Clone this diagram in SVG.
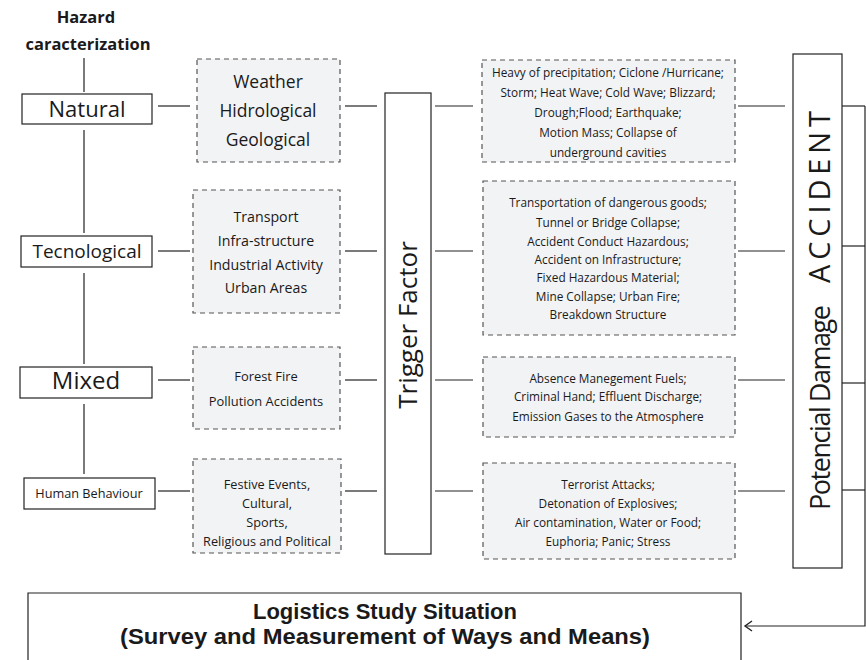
<svg xmlns="http://www.w3.org/2000/svg" width="866" height="660" viewBox="0 0 866 660">
<style>
text{font-family:"Open Sans","Noto Sans","DejaVu Sans",sans-serif;fill:#1a1a1a;text-anchor:middle}
.box{fill:#fff;stroke:#222;stroke-width:1.2}
.dash{fill:#f2f3f5;stroke:#555;stroke-width:1.2;stroke-dasharray:5 4}
.ln{stroke:#222;stroke-width:1.2;fill:none}
.r{font-size:11.8px}
.lg{font-family:"Liberation Sans",Arial,sans-serif;font-size:22px;font-weight:bold}
</style>
<defs>
<marker id="arr" markerWidth="12" markerHeight="12" refX="8" refY="6" orient="auto" markerUnits="userSpaceOnUse">
<path d="M1,1 L8,6 L1,11" fill="none" stroke="#222" stroke-width="1.4"/>
</marker>
</defs>
<rect width="866" height="660" fill="#fff"/>
<g id="title">
<text x="86" y="23" style="font-size:16.5px;font-weight:bold">Hazard</text>
<text x="88" y="50" style="font-size:16.5px;font-weight:bold">caracterization</text>
</g>
<g id="connectors">
<line class="ln" x1="84" y1="58" x2="84" y2="92"/>
<line class="ln" x1="84" y1="130" x2="84" y2="233"/>
<line class="ln" x1="84" y1="273" x2="84" y2="364"/>
<line class="ln" x1="84" y1="404" x2="84" y2="474"/>
<line class="ln" x1="158" y1="106" x2="190" y2="106"/>
<line class="ln" x1="158" y1="251" x2="190" y2="251"/>
<line class="ln" x1="158" y1="380" x2="190" y2="380"/>
<line class="ln" x1="158" y1="491" x2="190" y2="491"/>
<line class="ln" x1="345" y1="106" x2="377" y2="106"/>
<line class="ln" x1="345" y1="251" x2="377" y2="251"/>
<line class="ln" x1="345" y1="380" x2="377" y2="380"/>
<line class="ln" x1="345" y1="491" x2="377" y2="491"/>
<line class="ln" x1="435" y1="106" x2="473" y2="106"/>
<line class="ln" x1="435" y1="251" x2="473" y2="251"/>
<line class="ln" x1="435" y1="380" x2="473" y2="380"/>
<line class="ln" x1="435" y1="491" x2="473" y2="491"/>
<line class="ln" x1="738" y1="106" x2="785" y2="106"/>
<line class="ln" x1="738" y1="251" x2="785" y2="251"/>
<line class="ln" x1="738" y1="380" x2="785" y2="380"/>
<line class="ln" x1="738" y1="491" x2="785" y2="491"/>
<line class="ln" x1="842" y1="106" x2="865" y2="106"/>
<line class="ln" x1="842" y1="246" x2="865" y2="246"/>
<line class="ln" x1="842" y1="383" x2="865" y2="383"/>
<line class="ln" x1="842" y1="490" x2="865" y2="490"/>
<path class="ln" d="M865,106 V626 H745" marker-end="url(#arr)"/>
</g>
<g id="natural">
<rect class="box" x="22" y="94" width="130" height="30"/>
<text x="87" y="117" style="font-size:22px">Natural</text>
</g>
<g id="tecnological">
<rect class="box" x="21" y="236" width="131" height="31"/>
<text x="87" y="258" style="font-size:19px">Tecnological</text>
</g>
<g id="mixed">
<rect class="box" x="20" y="367" width="132" height="31"/>
<text x="86" y="389" style="font-size:24px">Mixed</text>
</g>
<g id="human">
<rect class="box" x="24" y="478" width="131" height="31"/>
<text x="89" y="498" style="font-size:12.7px">Human Behaviour</text>
</g>
<g id="nat-types">
<rect class="dash" x="197" y="59" width="143" height="103"/>
<text x="268" y="88" style="font-size:17.5px">Weather</text>
<text x="268" y="117" style="font-size:17.5px">Hidrological</text>
<text x="268" y="146" style="font-size:17.5px">Geological</text>
</g>
<g id="tec-types">
<rect class="dash" x="193" y="190" width="147" height="123"/>
<text x="266" y="222" style="font-size:14.2px">Transport</text>
<text x="266" y="246" style="font-size:14.2px">Infra-structure</text>
<text x="266" y="270" style="font-size:14.2px">Industrial Activity</text>
<text x="266" y="293" style="font-size:14.2px">Urban Areas</text>
</g>
<g id="mix-types">
<rect class="dash" x="193" y="347" width="147" height="82"/>
<text x="266" y="381" style="font-size:12.9px">Forest Fire</text>
<text x="266" y="406" style="font-size:12.9px">Pollution Accidents</text>
</g>
<g id="hum-types">
<rect class="dash" x="193" y="459" width="148" height="94"/>
<text x="267" y="489" style="font-size:12.7px">Festive Events,</text>
<text x="267" y="508" style="font-size:12.7px">Cultural,</text>
<text x="267" y="527" style="font-size:12.7px">Sports,</text>
<text x="267" y="546" style="font-size:12.7px">Religious and Political</text>
</g>
<g id="trigger">
<rect class="box" x="385" y="93" width="46" height="461"/>
<text transform="translate(417,325) rotate(-90)" style="font-size:26px">Trigger Factor</text>
</g>
<g id="nat-events">
<rect class="dash" x="482" y="60" width="253" height="102"/>
<text x="608" y="77" class="r">Heavy of precipitation; Ciclone /Hurricane;</text>
<text x="608" y="97" class="r">Storm; Heat Wave; Cold Wave; Blizzard;</text>
<text x="608" y="117" class="r">Drough;Flood; Earthquake;</text>
<text x="608" y="137" class="r">Motion Mass; Collapse of</text>
<text x="608" y="157" class="r">underground cavities</text>
</g>
<g id="tec-events">
<rect class="dash" x="483" y="181" width="252" height="154"/>
<text x="608" y="207" class="r">Transportation of dangerous goods;</text>
<text x="608" y="227" class="r">Tunnel or Bridge Collapse;</text>
<text x="608" y="246" class="r">Accident Conduct Hazardous;</text>
<text x="608" y="264" class="r">Accident on Infrastructure;</text>
<text x="608" y="282" class="r">Fixed Hazardous Material;</text>
<text x="608" y="301" class="r">Mine Collapse; Urban Fire;</text>
<text x="608" y="319" class="r">Breakdown Structure</text>
</g>
<g id="mix-events">
<rect class="dash" x="483" y="357" width="252" height="80"/>
<text x="608" y="383" class="r">Absence Manegement Fuels;</text>
<text x="608" y="401" class="r">Criminal Hand; Effluent Discharge;</text>
<text x="608" y="421" class="r">Emission Gases to the Atmosphere</text>
</g>
<g id="hum-events">
<rect class="dash" x="483" y="463" width="252" height="96"/>
<text x="608" y="489" class="r">Terrorist Attacks;</text>
<text x="608" y="508" class="r">Detonation of Explosives;</text>
<text x="608" y="527" class="r">Air contamination, Water or Food;</text>
<text x="608" y="546" class="r">Euphoria; Panic; Stress</text>
</g>
<g id="accident">
<rect class="box" x="793" y="54" width="49" height="514"/>
<g transform="translate(830,0) rotate(-90)">
<text x="-510" y="0" style="font-size:27px;text-anchor:start" textLength="205" lengthAdjust="spacing">Potencial Damage</text>
<text x="-283" y="0" style="font-size:29px;text-anchor:start" textLength="172" lengthAdjust="spacing">ACCIDENT</text>
</g>
</g>
<g id="logistics">
<path class="box" d="M28,662 V593 H741 V662"/>
<text x="385" y="619" class="lg">Logistics Study Situation</text>
<text x="385" y="644" class="lg" textLength="530" lengthAdjust="spacingAndGlyphs">(Survey and Measurement of Ways and Means)</text>
</g>
</svg>
